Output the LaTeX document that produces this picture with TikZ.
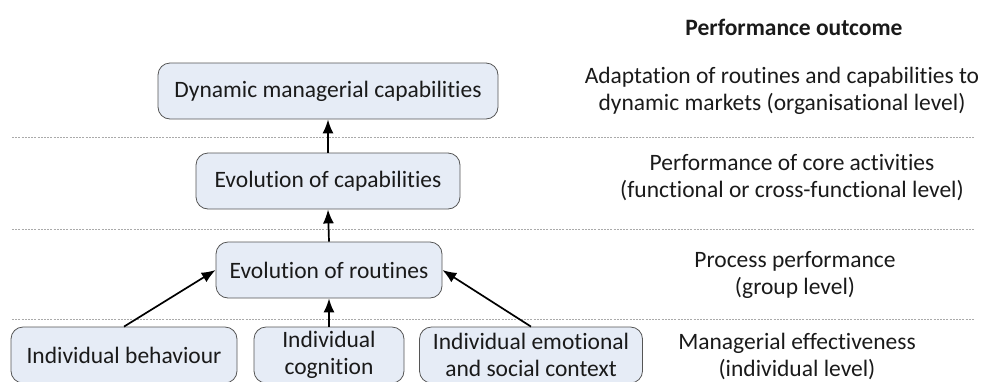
\documentclass[tikz,border=0pt]{standalone}
\usepackage{fontspec}
\setmainfont{Carlito}[Ligatures=NoCommon]
\usetikzlibrary{arrows.meta}
\definecolor{boxfill}{HTML}{E6ECF6}
\definecolor{boxline}{HTML}{555555}
\definecolor{txt}{HTML}{1A1A1A}
\definecolor{sep}{HTML}{AAAAAA}
\begin{document}
\begin{tikzpicture}[x=1pt,y=-1pt,
  every node/.style={font=\fontsize{23.5}{27}\selectfont, text=txt},
  boxnode/.style={draw=boxline, line width=0.8pt, fill=boxfill, rounded corners=12pt,
    minimum height=56pt, inner sep=0pt, align=center},
  sepline/.style={draw=sep, line width=0.8pt, dash pattern=on 2pt off 1.2pt},
  arr/.style={-{Latex[length=14pt,width=11pt]}, line width=1.7pt, black},
  lbl/.style={align=center, inner sep=0pt}]
\useasboundingbox (0,0) rectangle (984,381);
% separators
\coordinate (s1a) at (12,137); \coordinate (s1b) at (975,137);
\coordinate (s2a) at (12,229); \coordinate (s2b) at (975,229);
\coordinate (s3a) at (12,319); \coordinate (s3b) at (975,319);
\draw[sepline] (s1a) -- (s1b);
\draw[sepline] (s2a) -- (s2b);
\draw[sepline] (s3a) -- (s3b);
% boxes
\node[boxnode, minimum width=340pt] (dyn) at (328,91) {Dynamic managerial capabilities};
\node[boxnode, minimum width=264pt] (cap) at (328,181) {Evolution of capabilities};
\node[boxnode, minimum width=226pt] (rout) at (329,270) {Evolution of routines};
\node[boxnode, minimum width=226pt] (beh) at (124,355) {Individual behaviour};
\node[boxnode, minimum width=150pt] (cog) at (329,355) {Individual\\cognition};
\node[boxnode, minimum width=223pt] (emo) at (531,355) {Individual emotional\\and social context};
% arrows
\draw[arr] (cap.north) -- (dyn.south);
\draw[arr] (rout.north) -- (cap.south);
\draw[arr] (cog.north) -- (rout.south);
\draw[arr] (beh.north) -- (rout.west);
\draw[arr] (emo.north) -- (rout.east);
% right labels
\node[lbl, font=\fontsize{23.5}{27}\selectfont\bfseries] (head) at (794,27) {Performance outcome};
\node[lbl] (l1) at (782,91) {Adaptation of routines and capabilities to\\dynamic markets (organisational level)};
\node[lbl] (l2) at (792,178) {Performance of core activities\\(functional or cross-functional level)};
\node[lbl] (l3) at (795,275) {Process performance\\(group level)};
\node[lbl] (l4) at (797,356) {Managerial effectiveness\\(individual level)};
\end{tikzpicture}
\end{document}
